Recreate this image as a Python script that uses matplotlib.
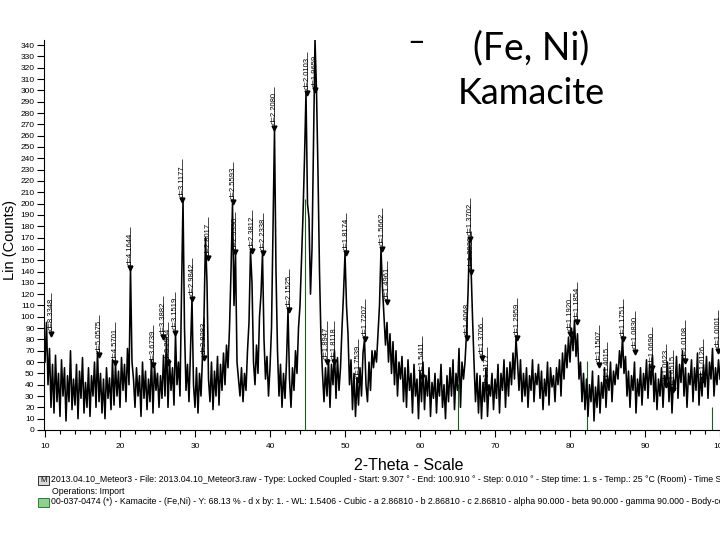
import numpy as np
import matplotlib.pyplot as plt
from matplotlib.patches import Rectangle

# scan grid, 0.2 deg steps from 10 to 100
two_theta = np.round(np.arange(10.0, 100.01, 0.2), 1)
counts = [
    60, 95, 40, 72, 20, 58, 15, 66, 25, 50,
    12, 62, 30, 55, 8, 48, 25, 70, 18, 45,
    22, 58, 10, 52, 28, 64, 15, 42, 20, 55,
    12, 48, 30, 60, 20, 69, 25, 50, 15, 45,
    10, 55, 28, 46, 18, 62, 22, 58, 30, 52,
    20, 64, 35, 58, 25, 72, 40, 143, 60, 45,
    20, 55, 30, 48, 12, 60, 28, 52, 18, 45,
    25, 62, 15, 58, 35, 50, 20, 48, 28, 66,
    30, 82, 20, 62, 35, 55, 22, 85, 40, 60,
    30, 120, 203, 90, 35, 58, 25, 70, 116, 40,
    20, 55, 15, 50, 30, 64, 100, 170, 130, 45,
    25, 60, 18, 52, 30, 65, 22, 58, 35, 68,
    40, 75, 55, 90, 140, 200, 110, 157, 60, 45,
    30, 55, 25, 50, 35, 70, 95, 158, 130, 60,
    40, 75, 50, 100, 120, 156, 80, 45, 65, 30,
    55, 90, 180, 265, 140, 70, 30, 58, 20, 50,
    28, 60, 106, 45, 20, 55, 35, 70, 50, 90,
    110, 150, 190, 240, 298, 200, 187, 120, 160, 250,
    345, 300, 227, 140, 80, 50, 25, 55, 30, 62,
    20, 58, 40, 70, 28, 64, 35, 55, 90, 120,
    156, 110, 85, 40, 62, 18, 50, 12, 45, 22,
    55, 30, 68, 80, 40, 25, 60, 35, 70, 55,
    70, 60, 85, 110, 160, 125, 100, 75, 95, 60,
    85, 50, 78, 40, 70, 30, 60, 45, 65, 25,
    55, 20, 62, 35, 50, 15, 58, 30, 45, 10,
    52, 25, 60, 18, 48, 30, 55, 12, 42, 28,
    50, 15, 45, 30, 58, 20, 40, 10, 48, 25,
    55, 30, 62, 18, 50, 35, 72, 20, 60, 45,
    60, 85, 120, 169, 145, 100, 60, 25, 50, 15,
    48, 10, 42, 25, 55, 12, 40, 30, 50, 18,
    45, 28, 58, 15, 50, 35, 62, 20, 55, 30,
    60, 40, 68, 45, 81, 60, 35, 62, 25, 50,
    30, 55, 20, 48, 35, 62, 25, 50, 40, 58,
    28, 52, 18, 45, 30, 60, 22, 55, 38, 48,
    25, 55, 40, 62, 30, 68, 45, 75, 55, 82,
    60, 90, 70, 97, 65, 85, 45, 60, 25, 50,
    18, 45, 12, 40, 25, 52, 8, 38, 20, 48,
    15, 42, 28, 55, 20, 48, 35, 60, 25, 52,
    40, 58, 45, 70, 55, 82, 50, 65, 30, 52,
    20, 48, 35, 60, 15, 45, 30, 55, 22, 50,
    35, 62, 28, 58, 40, 66, 25, 50, 18, 45,
    30, 55, 20, 48, 38, 60, 25, 52, 15, 45,
    35, 65, 28, 58, 42, 70, 30, 55, 20, 50,
    40, 62, 25, 55, 35, 68, 22, 50, 30, 58,
    38, 65, 28, 60, 45, 72, 30, 55, 40, 62,
    45,
]

# d-value markers (2theta, counts, label)
peak_pos = [10.8, 17.2, 19.33, 21.33, 24.4, 25.73, 26.4, 27.33, 28.27, 29.6,
            31.2, 31.73, 35.07, 35.33, 37.6, 39.07, 40.53, 42.53, 44.93, 46.0,
            47.55, 48.55, 50.13, 51.73, 52.67, 54.93, 55.6, 60.27, 66.27, 66.67,
            66.8, 68.27, 68.93, 72.93, 80.0, 80.93, 83.87, 84.93, 87.07, 88.67,
            90.93, 92.75, 93.75, 95.33, 97.73, 99.73]
peak_cnt = [85, 66, 59, 143, 57, 82, 59, 86, 203, 116,
            64, 152, 201, 157, 158, 156, 267, 106, 298, 300,
            60, 60, 156, 44, 80, 160, 113, 47, 81, 169,
            140, 64, 37, 81, 85, 95, 57, 42, 80, 69,
            55, 40, 35, 61, 44, 70]
peak_lbl = ["d=8.3348", "d=5.0575", "d=4.5701", "d=4.1644", "d=3.6739", "d=3.3882",
            "d=3.2964", "d=3.1519", "d=3.1177", "d=2.9842", "d=2.8283", "d=2.8017",
            "d=2.5593", "d=2.5390", "d=2.3812", "d=2.2338", "d=2.2080", "d=2.1525",
            "d=2.0103", "d=1.9659", "d=1.8947", "d=1.8118", "d=1.8174", "d=1.7539",
            "d=1.7207", "d=1.5662", "d=1.4961", "d=1.5411", "d=1.4068", "d=1.3702",
            "d=1.3930", "d=1.3706", "d=1.3177", "d=1.2959", "d=1.1920", "d=1.1854",
            "d=1.1507", "d=1.4015", "d=1.1751", "d=1.0830", "d=1.0690", "d=1.0623",
            "d=1.0515", "d=1.0108", "d=1.0126", "d=1.0001"]

# kamacite reference sticks
ref_pos = [44.67, 65.02, 82.33, 98.95]
ref_int = [204, 41, 61, 20]

x_ticks = [10, 20, 30, 40, 50, 60, 70, 80, 90, 100]
y_ticks = list(range(0, 341, 10))

fnt = 'Liberation Sans'

fig = plt.figure(figsize=(7.2, 5.4), dpi=100)
ax = fig.add_axes([44.25 / 720, 110 / 540, 91.1 * 7.5 / 720, 390 / 540])

ax.vlines(ref_pos, 0, ref_int, color='#1b5e20', lw=0.8, zorder=1)
ax.plot(two_theta, counts, color='black', lw=1.15, zorder=2)

# peak labels
ax.vlines(peak_pos, peak_cnt, [c + 36 for c in peak_cnt], color='black', lw=0.5, zorder=3)
ax.plot(peak_pos, peak_cnt, 'v', color='black', ms=3.5, zorder=4)
for p, c, s in zip(peak_pos, peak_cnt, peak_lbl):
    ax.text(p, c + 3, s, rotation=90, ha='center', va='bottom', fontsize=5.5,
            family=fnt, color='black', zorder=5)

ax.set_xlim(9.9, 101.0)
ax.set_ylim(0, 344.5)
ax.set_xticks(x_ticks)
ax.set_xticks(np.arange(10, 101, 2), minor=True)
ax.set_yticks(y_ticks)
ax.tick_params(axis='both', labelsize=6, direction='out', length=5, width=0.8, pad=2)
ax.tick_params(axis='x', pad=4)
ax.tick_params(axis='x', which='minor', length=3, width=0.8)
for lab in ax.get_xticklabels() + ax.get_yticklabels():
    lab.set_family(fnt)
ax.spines['top'].set_visible(False)
ax.spines['right'].set_visible(False)

fig.text(409 / 720, 1 - 466 / 540, "2-Theta - Scale", ha='center', va='center',
         fontsize=11.5, family=fnt)
fig.text(10 / 720, 1 - 240 / 540, "Lin (Counts)", rotation=90, ha='center', va='center',
         fontsize=10.5, family=fnt)

# legend lines at the bottom
fig.patches.append(Rectangle((38 / 720, 1 - 485 / 540), 11 / 720, 9 / 540,
                             transform=fig.transFigure, facecolor='#d9d9d9',
                             edgecolor='#333333', lw=0.7))
fig.text(43.5 / 720, 1 - 480.5 / 540, "M", ha='center', va='center', fontsize=5.5, family=fnt)
fig.text(51 / 720, 1 - 480 / 540,
         "2013.04.10_Meteor3 - File: 2013.04.10_Meteor3.raw - Type: Locked Coupled - Start: 9.307 ° - "
         "End: 100.910 ° - Step: 0.010 ° - Step time: 1. s - Temp.: 25 °C (Room) - Time Started: 0 s - 2-Theta: 9.8",
         ha='left', va='center', fontsize=6.3, family=fnt)
fig.text(52 / 720, 1 - 491 / 540, "Operations: Import", ha='left', va='center', fontsize=6.3, family=fnt)
fig.patches.append(Rectangle((38 / 720, 1 - 507 / 540), 11 / 720, 9 / 540,
                             transform=fig.transFigure, facecolor='#8fd18f',
                             edgecolor='#2e7d32', lw=0.7))
fig.text(51 / 720, 1 - 502 / 540,
         "00-037-0474 (*) - Kamacite - (Fe,Ni) - Y: 68.13 % - d x by: 1. - WL: 1.5406 - Cubic - a 2.86810 - "
         "b 2.86810 - c 2.86810 - alpha 90.000 - beta 90.000 - gamma 90.000 - Body-centered - Im-3m (229) - 2 - 23.5",
         ha='left', va='center', fontsize=6.3, family=fnt)

# title block
fig.text(416 / 720, 1 - 42 / 540, "–", ha='center', va='center', fontsize=22, family='Lato')
fig.text(531 / 720, 1 - 48 / 540, "(Fe, Ni)", ha='center', va='center', fontsize=27, family='Lato')
fig.text(531 / 720, 1 - 93 / 540, "Kamacite", ha='center', va='center', fontsize=26, family='Lato')

fig.savefig('out.png', dpi=100)
